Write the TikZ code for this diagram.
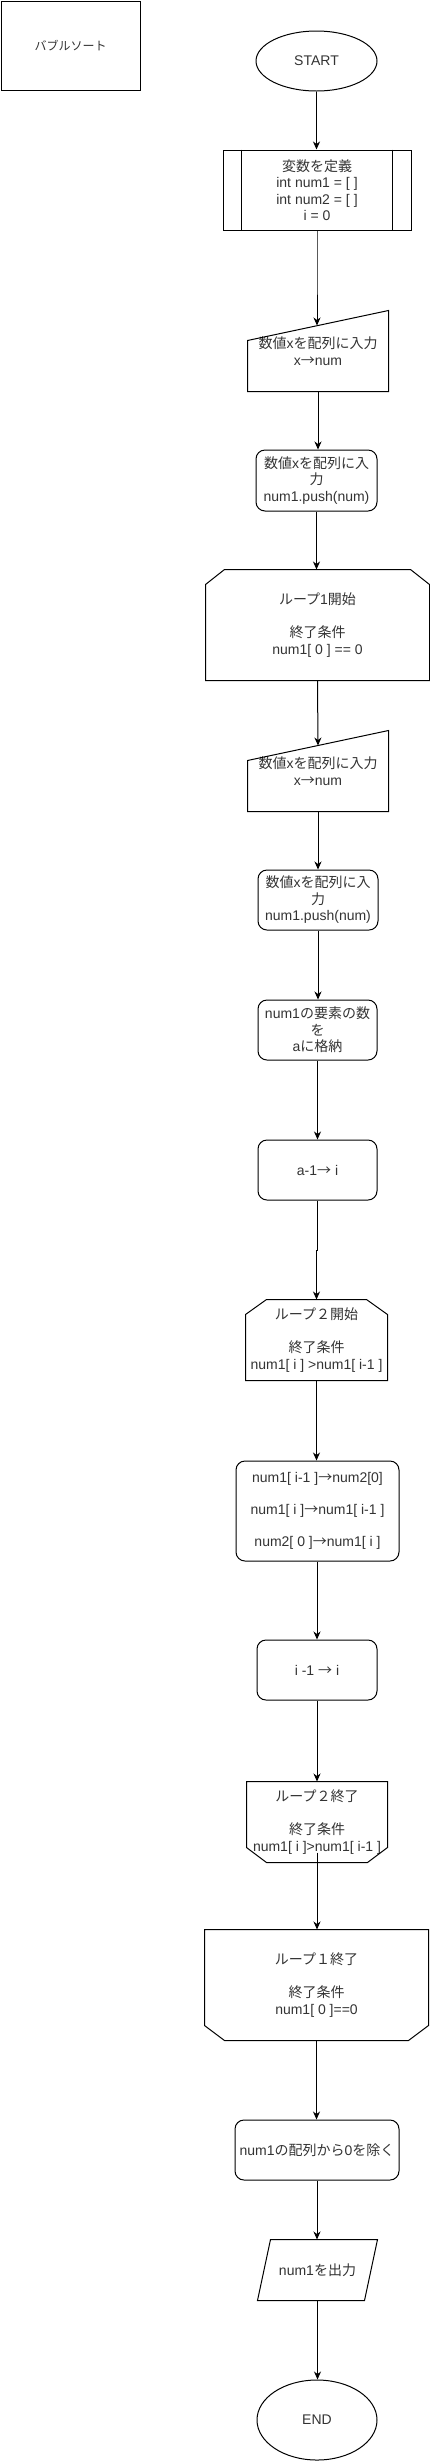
\documentclass[tikz,border=0pt]{standalone}
\usepackage{fontspec}
\setmainfont{Liberation Sans}
\newfontfamily\jpfont{Noto Sans CJK JP}
\usetikzlibrary{shapes.geometric,arrows.meta,calc}
\newcommand\jtx[1]{{\jpfont #1}}
\newcommand\rarr{{\jpfont →}}
\definecolor{txt}{RGB}{51,51,51}
\tikzset{
  base/.style={align=center, text=txt, font=\fontsize{14}{16.5}\selectfont, inner sep=0pt, line width=1pt},
  proc/.style={base, draw, rectangle, rounded corners=9pt},
  term/.style={base, draw, ellipse},
  plain/.style={base, rectangle},
  arr/.style={line width=1pt, -{Stealth[length=8pt,width=7pt,inset=2.5pt]}},
  outline/.style={line width=1pt, line join=miter}
}
\begin{document}
\begin{tikzpicture}[x=1pt,y=-1pt]
\useasboundingbox (0,0) rectangle (430,2461);

% title
\node[base, draw, minimum width=139pt, minimum height=89pt, font=\fontsize{12}{14}\selectfont] (title) at (70.5,45.5) {\jtx{バブルソート}};

% start
\node[term, minimum width=121pt, minimum height=60pt] (start) at (316.5,61) {START};

% predefined process
\node[base, draw, rectangle, minimum width=188pt, minimum height=80pt] (def) at (317,190)
  {\jtx{変数を定義}\\int num1 = [ ]\\int num2 = [ ]\\i = 0};
\draw[outline] ($(def.north west)+(19,0)$) -- ($(def.south west)+(19,0)$);
\draw[outline] ($(def.north east)+(-19,0)$) -- ($(def.south east)+(-19,0)$);

% manual input 1
\node[plain, minimum width=140pt, minimum height=80pt] (in1) at (318,351) {};
\node[base] (in1t) at (318,351) {\jtx{数値}x\jtx{を配列に入力}\\x\rarr num};
\draw[outline] (in1.south west) -- ($(in1.north west)+(0,30)$) -- (in1.north east) -- (in1.south east) -- cycle;
\coordinate (in1top) at ($(in1.north)+(-1,15)$);

% push 1
\node[proc, minimum width=121pt, minimum height=61pt] (push1) at (316.5,480.5)
  {\jtx{数値}x\jtx{を配列に入}\\\jtx{力}\\num1.push(num)};

% loop 1 start
\node[plain, minimum width=223pt, minimum height=110pt] (l1s) at (317.5,625)
  {\jtx{ループ}1\jtx{開始}\\[16.5pt]\jtx{終了条件}\\num1[ 0 ] == 0};
\draw[outline] (l1s.south west) -- ($(l1s.north west)+(0,15)$) -- ($(l1s.north west)+(19,0)$)
  -- ($(l1s.north east)+(-19,0)$) -- ($(l1s.north east)+(0,15)$) -- (l1s.south east) -- cycle;

% manual input 2
\node[plain, minimum width=140pt, minimum height=80pt] (in2) at (318,771) {};
\node[base] (in2t) at (318,771) {\jtx{数値}x\jtx{を配列に入力}\\x\rarr num};
\draw[outline] (in2.south west) -- ($(in2.north west)+(0,30)$) -- (in2.north east) -- (in2.south east) -- cycle;
\coordinate (in2top) at ($(in2.north)+(0,15)$);

% push 2
\node[proc, minimum width=120pt, minimum height=60pt] (push2) at (318,900)
  {\jtx{数値}x\jtx{を配列に入}\\\jtx{力}\\num1.push(num)};

% count
\node[proc, minimum width=119pt, minimum height=60pt] (count) at (317.5,1030)
  {num1\jtx{の要素の数}\\\jtx{を}\\a\jtx{に格納}};

% a-1 -> i
\node[proc, minimum width=119pt, minimum height=60pt] (ai) at (317.5,1170) {a-1\rarr\ i};

% loop 2 start
\node[plain, minimum width=141pt, minimum height=80pt] (l2s) at (316.5,1340)
  {\jtx{ループ２開始}\\[16.5pt]\jtx{終了条件}\\num1[ i ] >num1[ i-1 ]};
\draw[outline] (l2s.south west) -- ($(l2s.north west)+(0,15)$) -- ($(l2s.north west)+(21,0)$)
  -- ($(l2s.north east)+(-21,0)$) -- ($(l2s.north east)+(0,15)$) -- (l2s.south east) -- cycle;

% swap
\node[proc, minimum width=163pt, minimum height=100pt] (swap) at (317.5,1511)
  {num1[ i-1 ]\rarr num2[0]\\[15.5pt]num1[ i ]\rarr num1[ i-1 ]\\[15.5pt]num2[ 0 ]\rarr num1[ i ]};

% i-1 -> i
\node[proc, minimum width=120pt, minimum height=60pt] (dec) at (317,1670) {i -1 \rarr\ i};

% loop 2 end
\node[plain, minimum width=140pt, minimum height=80pt] (l2e) at (317,1822)
  {\jtx{ループ２終了}\\[16.5pt]\jtx{終了条件}\\num1[ i ]>num1[ i-1 ]};
\draw[outline] (l2e.north west) -- (l2e.north east) -- ($(l2e.south east)+(0,-15)$) -- ($(l2e.south east)+(-20,0)$)
  -- ($(l2e.south west)+(20,0)$) -- ($(l2e.south west)+(0,-15)$) -- cycle;
\coordinate (l2eout) at ($(l2e.south)+(0,-10)$);

% loop 1 end
\node[plain, minimum width=223pt, minimum height=110pt] (l1e) at (316.5,1985)
  {\jtx{ループ１終了}\\[16.5pt]\jtx{終了条件}\\num1[ 0 ]==0};
\draw[outline] (l1e.north west) -- (l1e.north east) -- ($(l1e.south east)+(0,-15)$) -- ($(l1e.south east)+(-20,0)$)
  -- ($(l1e.south west)+(20,0)$) -- ($(l1e.south west)+(0,-15)$) -- cycle;

% remove zeros
\node[proc, minimum width=164pt, minimum height=60pt] (remove) at (317,2150)
  {num1\jtx{の配列から}0\jtx{を除く}};

% output
\node[plain, minimum width=119pt, minimum height=60pt] (out) at (317.5,2270) {num1\jtx{を出力}};
\draw[outline] ($(out.north west)+(13,0)$) -- (out.north east) -- ($(out.south east)+(-13,0)$) -- (out.south west) -- cycle;

% end
\node[term, minimum width=120pt, minimum height=80pt] (end) at (317,2420) {END};

% connectors
\draw[arr] (start.south) -- (start.south |- def.north);
\draw[arr] (def.south) -- ++(0,40) -| (in1top);
\draw[arr] (in1.south) -- (in1.south |- push1.north);
\draw[arr] (push1.south) -- (push1.south |- l1s.north);
\draw[arr] (l1s.south) -- (in2top);
\draw[arr] (in2.south) -- (in2.south |- push2.north);
\draw[arr] (push2.south) -- (push2.south |- count.north);
\draw[arr] (count.south) -- (count.south |- ai.north);
\draw[arr] (ai.south) -- ++(0,50) -| (l2s.north);
\draw[arr] (l2s.south) -- (l2s.south |- swap.north);
\draw[arr] (swap.south) -- ++(0,40) -| (dec.north);
\draw[arr] (dec.south) -- (dec.south |- l2e.north);
\draw[arr] (l2eout) -- (l2eout |- l1e.north);
\draw[arr] (l1e.south) -- (l1e.south |- remove.north);
\draw[arr] (remove.south) -- (remove.south |- out.north);
\draw[arr] (out.south) -- (out.south |- end.north);
\end{tikzpicture}
\end{document}
